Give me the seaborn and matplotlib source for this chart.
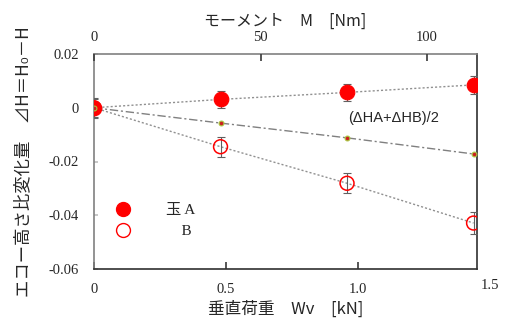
import matplotlib
matplotlib.use("Agg")
import matplotlib.pyplot as plt
from matplotlib.lines import Line2D
import seaborn as sns
import pandas as pd

# data
load_kn = [0.0, 0.479, 0.958, 1.437]
dh_a = [0.0, 0.0031, 0.0057, 0.0085]
dh_b = [0.0, -0.0145, -0.0281, -0.0429]
dh_mean = [0.0, -0.0057, -0.0112, -0.0172]
err_a = [0.0033, 0.0033, 0.0033, 0.0033]
err_b = [0.0037, 0.0037, 0.0037, 0.004]

y_ticks = [-0.06, -0.04, -0.02, 0.0, 0.02]
y_tick_labels = ["-0.06", "-0.04", "-0.02", "0", "0.02"]
x_ticks = [0.0, 0.5, 1.0]
x_tick_labels = ["0", "0.5", "1.0"]
m_ticks = [0, 50, 100]

sns.set_theme(style="white")
plt.rcParams['font.family'] = ['Noto Sans CJK JP', 'DejaVu Sans']
serif = ['Liberation Serif', 'Noto Sans CJK JP']

df = pd.DataFrame({
    'load': load_kn * 3,
    'dh': dh_a + dh_b + dh_mean,
    'series': ['A'] * 4 + ['B'] * 4 + ['mean'] * 4,
})

fig = plt.figure(figsize=(5.06, 3.21), dpi=100)
ax = fig.add_axes([94 / 506, 1 - 269 / 321, 383 / 506, 215 / 321])

# trend lines
sns.lineplot(data=df[df.series == 'A'], x='load', y='dh', ax=ax,
             color='#909090', lw=1, linestyle=(0, (1.5, 1.5)), legend=False)
sns.lineplot(data=df[df.series == 'B'], x='load', y='dh', ax=ax,
             color='#909090', lw=1, linestyle=(0, (1.5, 1.5)), legend=False)
sns.lineplot(data=df[df.series == 'mean'], x='load', y='dh', ax=ax,
             color='#808080', lw=1, linestyle=(0, (6, 2, 1.5, 2)), legend=False)

ax.errorbar(load_kn, dh_a, yerr=err_a, fmt='none', ecolor='#606060',
            elinewidth=0.8, capsize=3, capthick=0.8, zorder=3)
ax.errorbar(load_kn, dh_b, yerr=err_b, fmt='none', ecolor='#606060',
            elinewidth=0.8, capsize=3, capthick=0.8, zorder=3)

sns.scatterplot(x=load_kn, y=dh_a, ax=ax, s=110, color='red',
                edgecolor='red', zorder=4)
sns.scatterplot(x=load_kn, y=dh_b, ax=ax, s=100, facecolor='none',
                edgecolor='red', linewidth=1.1, zorder=4)
sns.scatterplot(x=load_kn, y=dh_mean, ax=ax, s=12, color='#cc2020',
                edgecolor='#a8c840', linewidth=0.8, zorder=4)

ax.set_xlim(0, 1.45)
ax.set_ylim(-0.06, 0.02)
ax.set_yticks(y_ticks)
ax.set_yticklabels(y_tick_labels, family=serif, fontsize=10.5)
ax.set_xticks(x_ticks)
ax.set_xticklabels(x_tick_labels, family=serif, fontsize=10.5)
ax.tick_params(axis='y', direction='in', length=3, color='#c0c0c0', pad=11,
               left=True)
ax.tick_params(axis='x', direction='in', length=5, color='#404040', pad=10,
               bottom=True)
ax.text(1.5, -0.0637, "1.5", family=serif, fontsize=10.5, ha='center',
        va='top', clip_on=False)

for side in ['left', 'top']:
    ax.spines[side].set_color('#808080')
for side in ['right', 'bottom']:
    ax.spines[side].set_color('#303030')
for s in ax.spines.values():
    s.set_linewidth(1.2)

ax.set_xlabel("垂直荷重　Wv　[kN]", fontsize=12, labelpad=3)
ax.set_ylabel("エコー高さ比変化量　⊿H＝H₀－H", fontsize=12.5, labelpad=12)

top = ax.twiny()
top.set_xlim(0, 115)
top.set_xticks(m_ticks)
top.set_xticklabels([str(t) for t in m_ticks], family=serif, fontsize=10.5)
top.tick_params(axis='x', direction='in', length=5, color='#404040', pad=7,
                top=True)
top.set_xlabel("モーメント　M　[Nm]", fontsize=11.5, labelpad=4)
for s in top.spines.values():
    s.set_visible(False)
top.grid(False)

ax.text(0.962, -0.0038, "(ΔHA+ΔHB)/2", family=['Liberation Sans'],
        fontsize=10.5, va='center', ha='left')

handles = [
    Line2D([], [], marker='o', linestyle='none', markersize=10,
           markerfacecolor='red', markeredgecolor='red'),
    Line2D([], [], marker='o', linestyle='none', markersize=10,
           markerfacecolor='none', markeredgecolor='red', markeredgewidth=1),
]
ax.legend(handles, ["玉 A", "    B"], frameon=False, loc='center left',
          bbox_to_anchor=(0.0, 0.224), handletextpad=1.8, labelspacing=0.5,
          prop={'family': serif, 'size': 11})

fig.savefig("out.png", dpi=100)
